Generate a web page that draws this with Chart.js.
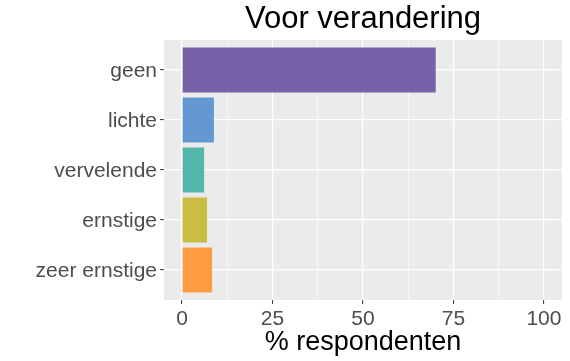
<!DOCTYPE html>
<html>
<head>
<meta charset="utf-8">
<script src="https://cdn.jsdelivr.net/npm/chart.js@4.4.1/dist/chart.umd.min.js"></script>
<style>
  html, body { margin: 0; padding: 0; background: #ffffff; }
  canvas { display: block; }
</style>
</head>
<body>
<canvas id="c" width="570" height="361"></canvas>
<script>
// ---- data ----
const categories = ["geen", "lichte", "vervelende", "ernstige", "zeer ernstige"];
const values = [70.1, 8.8, 6.1, 6.9, 8.3];
const barColors = ["#7761A8", "#6498D2", "#52B7AA", "#CBBC43", "#FF9B40"];
const xTicks = [0, 12.5, 25, 37.5, 50, 62.5, 75, 87.5, 100];
const titleText = "Voor verandering";
const xTitleText = "% respondenten";

const FONT = '"Liberation Sans", Arial, sans-serif';

const panelBg = {
  id: 'panelBg',
  beforeDraw(chart) {
    const {ctx, chartArea: a} = chart;
    ctx.save();
    ctx.fillStyle = '#EBEBEB';
    ctx.fillRect(a.left, a.top, a.right - a.left, a.bottom - a.top);
    ctx.restore();
  }
};

const isMajor = v => Math.abs(v % 25) < 1e-9;

new Chart(document.getElementById('c'), {
  type: 'bar',
  data: {
    datasets: [{
      data: values.map((v, i) => ({x: v, y: i})),
      backgroundColor: barColors,
      borderWidth: 0,
      barPercentage: 0.9,
      categoryPercentage: 1.0
    }]
  },
  options: {
    indexAxis: 'y',
    responsive: false,
    animation: false,
    layout: { padding: { left: 0, right: 8, top: 0, bottom: 0 } },
    plugins: {
      legend: { display: false },
      tooltip: { enabled: false },
      title: {
        display: true,
        text: titleText,
        fullSize: false,
        color: '#000000',
        font: { family: FONT, size: 31, weight: 'normal', lineHeight: 1.2 },
        padding: { top: 1.1, bottom: 1.7 }
      }
    },
    scales: {
      x: {
        type: 'linear',
        min: -5,
        max: 105,
        offset: false,
        afterBuildTicks: s => { s.ticks = xTicks.map(v => ({value: v})); },
        afterFit: s => { s.height = 61; },
        border: { display: false },
        grid: {
          offset: false,
          color: '#FFFFFF',
          lineWidth: c => (c.tick && isMajor(c.tick.value)) ? 1.2 : 0.6,
          drawTicks: true,
          tickLength: 4,
          tickWidth: 1,
          tickColor: c => (c.tick && isMajor(c.tick.value)) ? '#333333' : 'rgba(0,0,0,0)'
        },
        ticks: {
          autoSkip: false,
          maxRotation: 0,
          padding: 3,
          color: '#4D4D4D',
          font: { family: FONT, size: 21 },
          callback: v => isMajor(v) ? String(v) : ''
        },
        title: {
          display: true,
          text: xTitleText,
          color: '#000000',
          font: { family: FONT, size: 27, lineHeight: 1.2 },
          padding: { top: 0, bottom: 2.5 }
        }
      },
      y: {
        type: 'linear',
        reverse: true,
        min: -0.6,
        max: 4.6,
        offset: false,
        afterBuildTicks: s => { s.ticks = categories.map((c, i) => ({value: i})); },
        afterFit: s => { s.width = 164; },
        border: { display: false },
        grid: {
          offset: false,
          color: '#FFFFFF',
          lineWidth: 1.2,
          drawTicks: true,
          tickLength: 4,
          tickWidth: 1,
          tickColor: '#333333'
        },
        ticks: {
          autoSkip: false,
          padding: 3,
          labelOffset: 1.5,
          color: '#4D4D4D',
          font: { family: FONT, size: 21 },
          callback: v => categories[v]
        }
      }
    }
  },
  plugins: [panelBg]
});
</script>
</body>
</html>
